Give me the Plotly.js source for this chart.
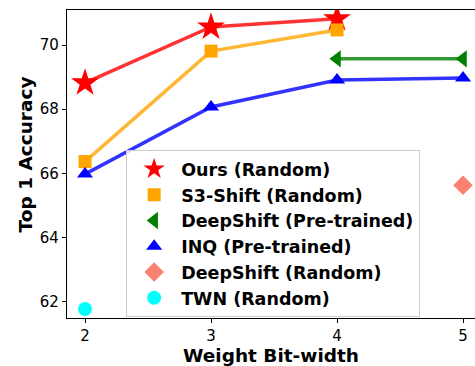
<!DOCTYPE html>
<html><head><meta charset="utf-8">
<script src="https://cdn.plot.ly/plotly-3.0.1.min.js"></script>
<style>html,body{margin:0;padding:0;background:#fff;}</style>
</head><body><div id="chart" style="width:475px;height:366px;"></div>
<script>
const bits = [2, 3, 4, 5];
const oursX = [2, 3, 4];
const oursY = [68.82, 70.56, 70.82];
const s3X = [2, 3, 4];
const s3Y = [66.37, 69.81, 70.47];
const dsPreX = [4, 5];
const dsPreY = [69.57, 69.57];
const inqX = [2, 3, 4, 5];
const inqY = [65.98, 68.07, 68.91, 68.97];
const dsRandX = [5];
const dsRandY = [65.63];
const twnX = [2];
const twnY = [61.78];
const yTicks = [62, 64, 66, 68, 70];

const series = [
  {name: 'Ours (Random)', x: oursX, y: oursY, color: 'red', sym: 'star', size: 21, line: true},
  {name: 'S3-Shift (Random)', x: s3X, y: s3Y, color: 'orange', sym: 'square', size: 13, line: true},
  {name: 'DeepShift (Pre-trained)', x: dsPreX, y: dsPreY, color: 'green', sym: 'triangle-left', size: 15, line: true},
  {name: 'INQ (Pre-trained)', x: inqX, y: inqY, color: 'blue', sym: 'triangle-up', size: 14, line: true},
  {name: 'DeepShift (Random)', x: dsRandX, y: dsRandY, color: 'salmon', sym: 'diamond', size: 15, line: false},
  {name: 'TWN (Random)', x: twnX, y: twnY, color: 'cyan', sym: 'circle', size: 14, line: false}
];
const traces = [];
series.forEach(s => {
  if (s.line) traces.push({x: s.x, y: s.y, mode: 'lines', line: {color: s.color, width: 3.5}, opacity: 0.8, showlegend: false, hoverinfo: 'skip'});
});
series.forEach(s => {
  traces.push({x: s.x, y: s.y, mode: 'markers', name: s.name, marker: {color: s.color, symbol: s.sym, size: s.size, line: {width: 0}}});
});

const layout = {
  width: 475, height: 366,
  margin: {l: 67, r: 0, t: 10, b: 48},
  paper_bgcolor: '#fff', plot_bgcolor: '#fff',
  font: {family: 'DejaVu Sans', size: 15, color: '#000'},
  xaxis: {
    range: [1.857, 5.095], tickvals: bits, ticktext: bits.map(String),
    showgrid: false, zeroline: false, showline: true, linecolor: '#000', linewidth: 1.2, mirror: true,
    ticks: 'outside', ticklen: 4, tickwidth: 1, tickcolor: '#000',
    title: {text: '<b>Weight Bit-width</b>', font: {size: 18.5}, standoff: 8}
  },
  yaxis: {
    range: [61.5, 71.09], tickvals: yTicks, ticktext: yTicks.map(String),
    showgrid: false, zeroline: false, showline: true, linecolor: '#000', linewidth: 1.2,
    ticks: 'outside', ticklen: 4, tickwidth: 1, tickcolor: '#000'
  },
  annotations: [{
    text: '<b>Top 1 Accuracy</b>', textangle: -90, showarrow: false,
    xref: 'paper', yref: 'paper', x: -0.103, y: 0.531, xanchor: 'center', yanchor: 'middle',
    font: {size: 18.5, family: 'DejaVu Sans', color: '#000'}
  }],
  legend: {
    x: 0.145, y: 0.545, xanchor: 'left', yanchor: 'top',
    bgcolor: 'rgba(255,255,255,0.8)', bordercolor: '#ccc', borderwidth: 1,
    font: {size: 17.5, family: 'DejaVu Sans', weight: 'bold'},
    itemsizing: 'trace', itemwidth: 44, tracegroupgap: 0
  }
};
Plotly.newPlot('chart', traces, layout, {displayModeBar: false, staticPlot: true});
</script></body></html>
